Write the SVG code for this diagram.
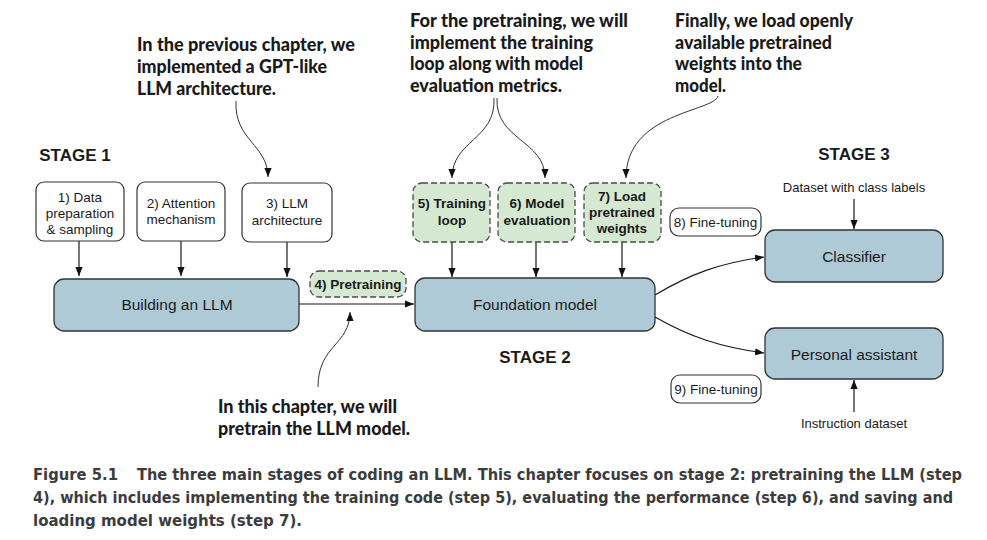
<svg xmlns="http://www.w3.org/2000/svg" width="987" height="540" viewBox="0 0 987 540">
<style>
.bg{fill:#ffffff}
.wbox{fill:#ffffff;stroke:#333333;stroke-width:1.2}
.bbox{fill:#aecad7;stroke:#333333;stroke-width:1.3}
.gbox{fill:#d5e8d2;stroke:#4a4a4a;stroke-width:1.3;stroke-dasharray:6,3}
.t{font-family:"Liberation Sans",Arial,sans-serif;fill:#1a1a1a;text-anchor:middle}
.s{font-size:13.5px}
.sb{font-size:13.5px;font-weight:bold}
.m{font-size:15.5px}
.stage{font-family:"Liberation Sans",Arial,sans-serif;font-size:17px;font-weight:bold;fill:#1a1a1a;text-anchor:middle}
.ann{font-family:Lato,"Open Sans",sans-serif;font-size:18px;font-weight:900;fill:#1a1a1a}
.cap{font-family:"Liberation Sans Narrow","DejaVu Sans Condensed","Liberation Sans",sans-serif;font-size:15px;font-weight:bold;fill:#3c3c3c}
.ln{fill:none;stroke:#1a1a1a;stroke-width:1.2}
.cv{fill:none;stroke:#333333;stroke-width:1}
</style>
<defs>
<marker id="ah" viewBox="0 0 10 10" refX="10" refY="5" markerWidth="9" markerHeight="9" markerUnits="userSpaceOnUse" orient="auto">
<path d="M0,1 L10,5 L0,9 z" fill="#111111"/>
</marker>
</defs>
<rect class="bg" x="0" y="0" width="987" height="540"/>

<!-- annotations -->
<g id="ann-prev">
<text class="ann" x="137" y="51" textLength="218" lengthAdjust="spacingAndGlyphs">In the previous chapter, we</text>
<text class="ann" x="137" y="73" textLength="190" lengthAdjust="spacingAndGlyphs">implemented a GPT-like</text>
<text class="ann" x="137" y="95" textLength="139" lengthAdjust="spacingAndGlyphs">LLM architecture.</text>
</g>
<g id="ann-pretrain">
<text class="ann" x="410" y="27" textLength="218" lengthAdjust="spacingAndGlyphs">For the pretraining, we will</text>
<text class="ann" x="410" y="49" textLength="183" lengthAdjust="spacingAndGlyphs">implement the training</text>
<text class="ann" x="410" y="70" textLength="173" lengthAdjust="spacingAndGlyphs">loop along with model</text>
<text class="ann" x="410" y="92" textLength="152" lengthAdjust="spacingAndGlyphs">evaluation metrics.</text>
</g>
<g id="ann-final">
<text class="ann" x="675" y="27" textLength="178" lengthAdjust="spacingAndGlyphs">Finally, we load openly</text>
<text class="ann" x="675" y="49" textLength="157" lengthAdjust="spacingAndGlyphs">available pretrained</text>
<text class="ann" x="675" y="70" textLength="127" lengthAdjust="spacingAndGlyphs">weights into the</text>
<text class="ann" x="675" y="92" textLength="51" lengthAdjust="spacingAndGlyphs">model.</text>
</g>
<g id="ann-this">
<text class="ann" x="218" y="413" textLength="179" lengthAdjust="spacingAndGlyphs">In this chapter, we will</text>
<text class="ann" x="218" y="435" textLength="192" lengthAdjust="spacingAndGlyphs">pretrain the LLM model.</text>
</g>

<!-- stage labels -->
<text class="stage" x="75" y="161">STAGE 1</text>
<text class="stage" x="535" y="363">STAGE 2</text>
<text class="stage" x="854" y="160">STAGE 3</text>

<!-- connectors -->
<g id="connectors">
<path class="cv" d="M236,101 C234,140 268,145 268,177" marker-end="url(#ah)"/>
<path class="cv" d="M494,98 C496,140 452,140 452,178" marker-end="url(#ah)"/>
<path class="cv" d="M497,98 C495,140 545,140 545,178" marker-end="url(#ah)"/>
<path class="cv" d="M718,96 C714,112 626,112 626,178" marker-end="url(#ah)"/>
<path class="cv" d="M318,387 C318,345 350,345 350,312" marker-end="url(#ah)"/>
<line class="ln" x1="79" y1="241" x2="79" y2="276" marker-end="url(#ah)"/>
<line class="ln" x1="181" y1="241" x2="181" y2="276" marker-end="url(#ah)"/>
<line class="ln" x1="287" y1="242" x2="287" y2="277" marker-end="url(#ah)"/>
<line class="ln" x1="299" y1="304" x2="414" y2="304" marker-end="url(#ah)"/>
<line class="ln" x1="452" y1="242" x2="452" y2="277" marker-end="url(#ah)"/>
<line class="ln" x1="536" y1="242" x2="536" y2="277" marker-end="url(#ah)"/>
<line class="ln" x1="622" y1="242" x2="622" y2="277" marker-end="url(#ah)"/>
<path class="ln" d="M655,295 C690,274 720,263 764,257" marker-end="url(#ah)"/>
<path class="ln" d="M655,317 C690,337 720,347 764,353" marker-end="url(#ah)"/>
<line class="ln" x1="854" y1="199" x2="854" y2="229" marker-end="url(#ah)"/>
<line class="ln" x1="854" y1="412" x2="854" y2="380" marker-end="url(#ah)"/>
</g>

<!-- stage 1 nodes -->
<g id="n1">
<rect class="wbox" x="36" y="182" width="88" height="59" rx="8"/>
<text class="t s" x="80" y="202">1) Data</text>
<text class="t s" x="80" y="218">preparation</text>
<text class="t s" x="80" y="234">&amp; sampling</text>
</g>
<g id="n2">
<rect class="wbox" x="137" y="182" width="88" height="59" rx="8"/>
<text class="t s" x="181" y="208">2) Attention</text>
<text class="t s" x="181" y="224">mechanism</text>
</g>
<g id="n3">
<rect class="wbox" x="242" y="183" width="90" height="59" rx="8"/>
<text class="t s" x="287" y="208">3) LLM</text>
<text class="t s" x="287" y="225">architecture</text>
</g>
<g id="building">
<rect class="bbox" x="54" y="279" width="245" height="52" rx="10"/>
<text class="t m" x="177" y="310">Building an LLM</text>
</g>
<g id="n4">
<rect class="gbox" x="310" y="271" width="96" height="26" rx="9"/>
<text class="t sb" x="358" y="289">4) Pretraining</text>
</g>

<!-- stage 2 nodes -->
<g id="n5">
<rect class="gbox" x="413" y="183" width="77" height="59" rx="9"/>
<text class="t sb" x="452" y="208">5) Training</text>
<text class="t sb" x="452" y="225">loop</text>
</g>
<g id="n6">
<rect class="gbox" x="498" y="183" width="77" height="59" rx="9"/>
<text class="t sb" x="537" y="208">6) Model</text>
<text class="t sb" x="537" y="225">evaluation</text>
</g>
<g id="n7">
<rect class="gbox" x="584" y="183" width="77" height="59" rx="9"/>
<text class="t sb" x="622" y="201">7) Load</text>
<text class="t sb" x="622" y="217">pretrained</text>
<text class="t sb" x="622" y="233">weights</text>
</g>
<g id="foundation">
<rect class="bbox" x="415" y="278" width="240" height="53" rx="10"/>
<text class="t m" x="535" y="310">Foundation model</text>
</g>

<!-- stage 3 nodes -->
<g id="ft8">
<rect class="wbox" x="670" y="208" width="91" height="28" rx="9"/>
<text class="t s" x="715.5" y="227">8) Fine-tuning</text>
</g>
<g id="ft9">
<rect class="wbox" x="671" y="375" width="90" height="28" rx="9"/>
<text class="t s" x="716" y="394">9) Fine-tuning</text>
</g>
<g id="classifier">
<rect class="bbox" x="765" y="230" width="178" height="52" rx="10"/>
<text class="t m" x="854" y="262">Classifier</text>
</g>
<g id="assistant">
<rect class="bbox" x="765" y="328" width="178" height="51" rx="10"/>
<text class="t m" x="854" y="360">Personal assistant</text>
</g>
<g id="ds1">
<text class="t" x="854" y="192" style="font-size:13px">Dataset with class labels</text>
</g>
<g id="ds2">
<text class="t" x="854" y="428" style="font-size:13px">Instruction dataset</text>
</g>

<!-- caption -->
<text class="cap" x="33" y="480" textLength="85" lengthAdjust="spacingAndGlyphs">Figure 5.1</text>
<text class="cap" x="137" y="480" textLength="825" lengthAdjust="spacingAndGlyphs">The three main stages of coding an LLM. This chapter focuses on stage 2: pretraining the LLM (step</text>
<text class="cap" x="33" y="503" textLength="920" lengthAdjust="spacingAndGlyphs">4), which includes implementing the training code (step 5), evaluating the performance (step 6), and saving and</text>
<text class="cap" x="33" y="526" textLength="269" lengthAdjust="spacingAndGlyphs">loading model weights (step 7).</text>
</svg>
